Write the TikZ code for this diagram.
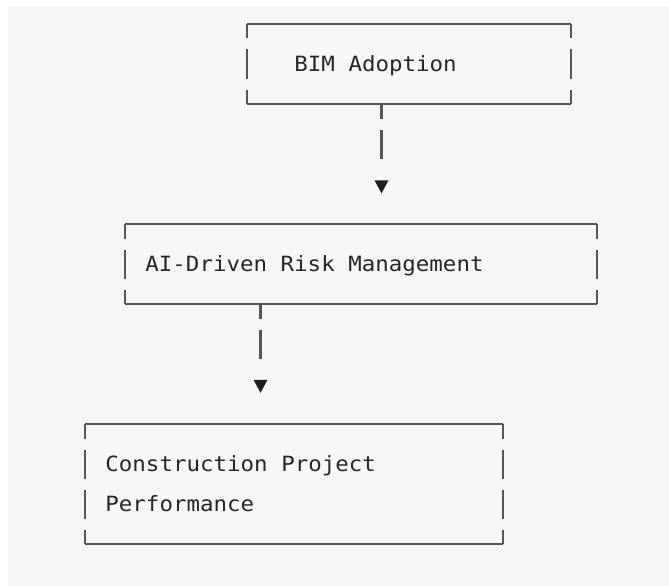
\documentclass[tikz,border=0pt]{standalone}
\usepackage{fontspec}
\newfontfamily\asciimono[FakeStretch=1.07]{DejaVu Sans Mono}
\usetikzlibrary{shapes.geometric,calc}
\definecolor{bgc}{HTML}{F7F7F7}
\definecolor{edgec}{HTML}{555555}
\definecolor{txtc}{HTML}{262626}
\definecolor{tipc}{HTML}{1E1E1E}
\begin{document}
\begin{tikzpicture}[x=1pt,y=-1pt,
  boxarea/.style={rectangle, draw=none, inner sep=0pt, outer sep=0pt},
  hedge/.style={draw=edgec, line width=2.1pt},
  vedge/.style={draw=edgec, line width=2.1pt, dash pattern=on 29pt off 11pt, dash phase=14.5pt},
  conn/.style={draw=edgec, line width=2.1pt, dash pattern=on 14.5pt off 11pt on 29pt off 200pt},
  tip/.style={isosceles triangle, isosceles triangle stretches, shape border rotate=270, fill=tipc, draw=none, inner sep=0pt, minimum width=14pt, minimum height=13pt},
  txt/.style={anchor=base west, inner sep=0pt, text=txtc, font=\asciimono\fontsize{21}{21}\selectfont}]
\useasboundingbox (0,0) rectangle (669,586);
\fill[bgc] (7.5,6) rectangle (669,586);

% boxes
\node[boxarea, minimum width=323.7pt, minimum height=80pt] (b1) at (408.85,64) {};
\node[boxarea, minimum width=472pt, minimum height=80pt] (b2) at (361,264) {};
\node[boxarea, minimum width=418pt, minimum height=120pt] (b3) at (294,484) {};

\foreach \b in {b1,b2,b3}{
  \draw[hedge] (\b.north west) -- (\b.north east);
  \draw[hedge] (\b.south west) -- (\b.south east);
  \draw[vedge] (\b.north west) -- (\b.south west);
  \draw[vedge] (\b.north east) -- (\b.south east);
}

% texts
\node[txt] (t1) at (294.2,71.7) {BIM Adoption};
\node[txt] (t2) at (145.2,271.7) {AI-Driven Risk Management};
\node[txt] (t3a) at (105.2,471.7) {Construction Project};
\node[txt] (t3b) at (105.2,511.7) {Performance};

% arrow heads
\node[tip] (a1) at (381.5,184.5) {};
\node[tip] (a2) at (260.5,384) {};

% connectors
\coordinate (c1) at ($(b1.south west)+(134.5,0)$);
\coordinate (c2) at ($(b2.south west)+(135.5,0)$);
\draw[conn] (c1) -- (c1 |- a1.north);
\draw[conn] (c2) -- (c2 |- a2.north);
\end{tikzpicture}
\end{document}
